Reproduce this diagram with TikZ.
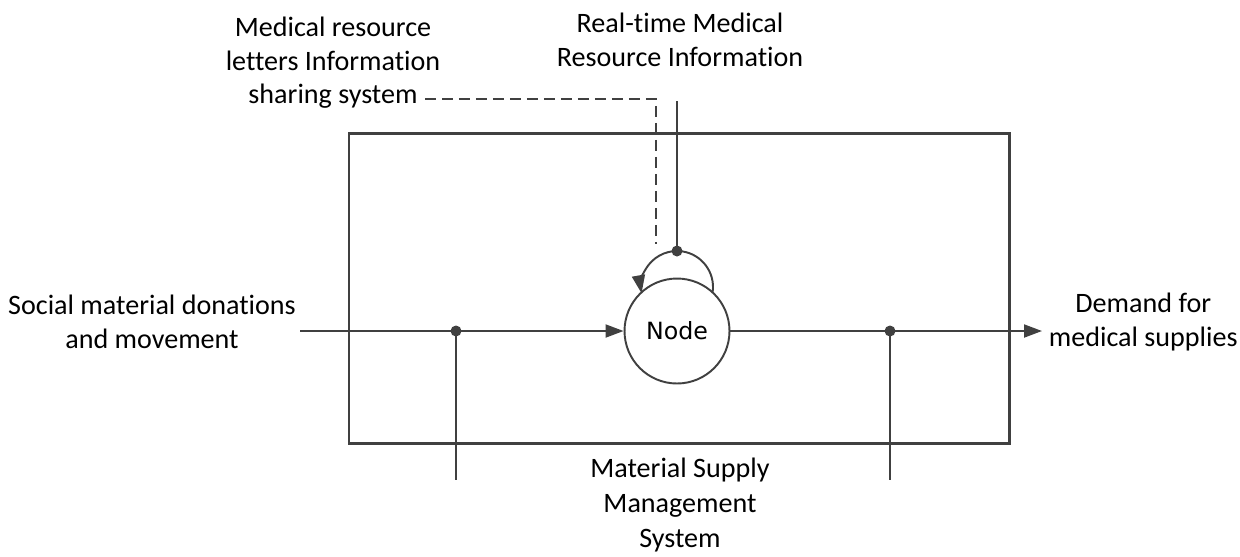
\documentclass[tikz,border=0pt]{standalone}
\usepackage{fontspec}
\setmainfont{Carlito}[Ligatures=NoCommon]
\newfontfamily\nodefont{DejaVu Sans}
\usetikzlibrary{arrows.meta}
\tikzset{>={Triangle[length=.36cm, width=.26cm]}}
\definecolor{linegray}{HTML}{404040}
\tikzset{
  line/.style={draw=linegray, line width=1.1pt},
  frame/.style={draw=linegray, line width=1.7pt},
  label/.style={align=center, font=\fontsize{16}{19}\selectfont, inner sep=0pt},
  junction/.style={circle, fill=linegray, inner sep=0pt, minimum size=.22cm},
}

\begin{document}
\begin{tikzpicture}[x=.02cm, y=.02cm]
        \useasboundingbox (0, 0) rectangle (1240, -556);
        % box
        \draw[frame] (349, -133) rectangle (1009, -443);
        % node
        \node[circle, line, fill=white, minimum size=2.1cm, inner sep=0pt, font=\nodefont\fontsize{13.5}{15}\selectfont] (node) at (677, -331) {Node};
        % texts
        \node[label] (social) at (152, -322) {Social material donations\\and movement};
        \node[label, anchor=east] (demand) at (1238, -322) {Demand for\\medical supplies};
        \node[label] (medres) at (333, -63) {Medical resource\\letters Information\\sharing system};
        \node[label] (realtime) at (680, -40) {Real-time Medical\\Resource Information};
        \node[label, font=\fontsize{16}{20}\selectfont] (mss) at (680, -505) {Material Supply\\Management\\System};
        % points
        \coordinate (in) at (300, -331);
        \coordinate (out) at (1042, -331);
        \coordinate (jl) at (456, -331);
        \coordinate (jr) at (890, -331);
        \coordinate (jlend) at (456, -480);
        \coordinate (jrend) at (890, -480);
        \coordinate (rtop) at (677, -101);
        \coordinate (loopc) at (677, -287);
        \coordinate (rdot) at (677, -251);
        \coordinate (dstart) at (425, -99);
        \coordinate (dcorner) at (656, -99);
        \coordinate (dend) at (656, -244);
        % lines
        \draw[line, ->] (in) -- (node.west);
        \draw[line, ->] (node.east) -- (out);
        \draw[line] (jl) -- (jlend);
        \draw[line] (jr) -- (jrend);
        \draw[line] (rtop) -- (rdot);
        \draw[line, ->] ([shift={(-8:36)}]loopc) arc[start angle=-8, end angle=190, radius=36];
        \draw[line, dash pattern=on .22cm off .12cm] (dstart) -- (dcorner) -- (dend);
        \node[junction] at (jl) {};
        \node[junction] at (jr) {};
        \node[junction] at (rdot) {};
      \end{tikzpicture}
\end{document}
